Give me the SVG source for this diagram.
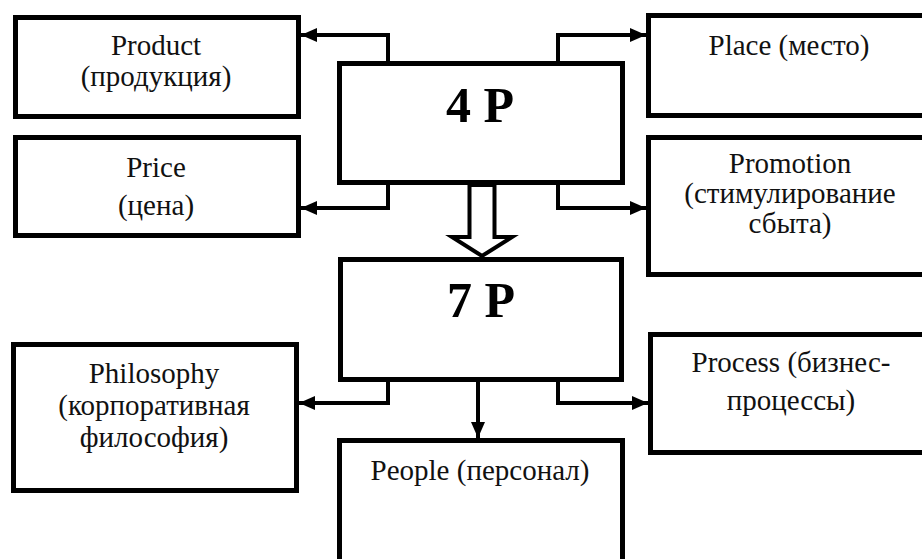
<svg xmlns="http://www.w3.org/2000/svg" width="922" height="559" viewBox="0 0 922 559">
  <style>
    .box { fill: #ffffff; stroke: #000000; stroke-width: 5; }
    .lbl { font-size: 29px; fill: #111111; text-anchor: middle; }
    .big { font-size: 50px; font-weight: bold; fill: #000000; text-anchor: middle; }
    .con { fill: none; stroke: #000000; stroke-width: 4; }
  </style>
  <defs>
    <marker id="ah" markerUnits="userSpaceOnUse" markerWidth="16" markerHeight="14" refX="16" refY="7" orient="auto">
      <path d="M0,0 L16,7 L0,14 z" fill="#000000"/>
    </marker>
  </defs>
  <rect width="922" height="559" fill="#ffffff"/>

  <g font-family="'Liberation Serif', 'Times New Roman', 'DejaVu Serif', serif">
  <g id="node-product">
    <rect class="box" x="15.5" y="17.5" width="283" height="99"/>
    <text class="lbl" x="156" y="55">Product</text>
    <text class="lbl" x="156" y="86">(продукция)</text>
  </g>
  <g id="node-price">
    <rect class="box" x="15.5" y="137.5" width="283" height="98"/>
    <text class="lbl" x="156" y="177">Price</text>
    <text class="lbl" x="156" y="215">(цена)</text>
  </g>
  <g id="node-4p">
    <rect class="box" x="339.5" y="63.5" width="283" height="119"/>
    <text class="big" x="480" y="122">4 P</text>
  </g>
  <g id="node-place">
    <rect class="box" x="648.5" y="15.5" width="300" height="100"/>
    <text class="lbl" x="789" y="55">Place (место)</text>
  </g>
  <g id="node-promotion">
    <rect class="box" x="648.5" y="137.5" width="300" height="137"/>
    <text class="lbl" x="790" y="173">Promotion</text>
    <text class="lbl" x="790" y="203">(стимулирование</text>
    <text class="lbl" x="790" y="233">сбыта)</text>
  </g>
  <g id="node-7p">
    <rect class="box" x="340.5" y="259.5" width="281" height="120"/>
    <text class="big" x="481" y="317">7 P</text>
  </g>
  <g id="node-philosophy">
    <rect class="box" x="13.5" y="344.5" width="283" height="146"/>
    <text class="lbl" x="154" y="383">Philosophy</text>
    <text class="lbl" x="154" y="415">(корпоративная</text>
    <text class="lbl" x="154" y="447">философия)</text>
  </g>
  <g id="node-people">
    <rect class="box" x="339.5" y="440.5" width="283" height="140"/>
    <text class="lbl" x="480" y="480">People (персонал)</text>
  </g>
  <g id="node-process">
    <rect class="box" x="650.5" y="334.5" width="300" height="118"/>
    <text class="lbl" x="791" y="372">Process (бизнес-</text>
    <text class="lbl" x="791" y="410">процессы)</text>
  </g>
  </g>

  <g id="connectors">
    <path class="con" d="M388,62 V35 H301" marker-end="url(#ah)"/>
    <path class="con" d="M388,184 V208 H301" marker-end="url(#ah)"/>
    <path class="con" d="M558,62 V35 H646" marker-end="url(#ah)"/>
    <path class="con" d="M558,184 V208 H646" marker-end="url(#ah)"/>
    <path class="con" d="M388,381 V403 H299" marker-end="url(#ah)"/>
    <path class="con" d="M558,381 V403 H648" marker-end="url(#ah)"/>
    <path class="con" d="M478,381 V438" marker-end="url(#ah)"/>
    <polygon points="469.5,185 469.5,237 452,237 482,256 512,237 494.5,237 494.5,185" fill="#ffffff" stroke="#000000" stroke-width="4" stroke-linejoin="miter"/>
  </g>
</svg>
